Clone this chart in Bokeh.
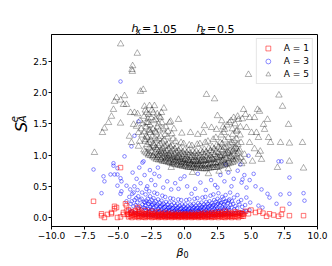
import math
from bokeh.plotting import figure
from bokeh.models import Range1d, FixedTicker, Label, Legend, LegendItem
from bokeh.layouts import column, row
from bokeh.embed import file_html
from bokeh.resources import INLINE

# ---------------- data ----------------
x_ticks = [-10, -7.5, -5, -2.5, 0, 2.5, 5, 7.5, 10]
x_tick_labels = ["\u221210.0", "\u22127.5", "\u22125.0", "\u22122.5", "0.0", "2.5", "5.0", "7.5", "10.0"]
y_ticks = [0, 0.5, 1, 1.5, 2, 2.5]
y_tick_labels = ["0.0", "0.5", "1.0", "1.5", "2.0", "2.5"]

series_labels = ["A = 1", "A = 3", "A = 5"]

# A = 1  (red squares)
a1_beta = [
    -4.81, -6.84, -6.24, -6.02, -5.79, -5.49, -5.26, -5.11, -5.04, -4.81,
    -4.36, -4.60, -4.30, -5.26, -5.49, -6.24, -4.59, -4.36, -3.99, -3.53,
    -3.38, -4.44, 4.36, 4.81, 5.34, 5.64, 6.39, 7.29, 7.37, 7.89,
    8.95, 7.07, 6.17, 5.00, 5.90, 6.70, 4.60,
    -4.20, -4.20, -4.20, -3.95, -3.95, -3.95, -3.70, -3.70, -3.70,
    -3.45, -3.45, -3.45, -3.45, -3.20, -3.20, -3.20,
    -2.95, -2.95, -2.95, -2.95, -2.70, -2.70, -2.70,
    -2.45, -2.45, -2.45, -2.45, -2.20, -2.20, -2.20,
    -1.95, -1.95, -1.95, -1.95, -1.70, -1.70, -1.70,
    -1.45, -1.45, -1.45, -1.45, -1.20, -1.20, -1.20,
    -0.95, -0.95, -0.95, -0.95, -0.70, -0.70, -0.70,
    -0.45, -0.45, -0.45, -0.45, -0.20, -0.20, -0.20,
    0.05, 0.05, 0.05, 0.05, 0.30, 0.30, 0.30,
    0.55, 0.55, 0.55, 0.55, 0.80, 0.80, 0.80,
    1.05, 1.05, 1.05, 1.05, 1.30, 1.30, 1.30,
    1.55, 1.55, 1.55, 1.55, 1.80, 1.80, 1.80,
    2.05, 2.05, 2.05, 2.05, 2.30, 2.30, 2.30,
    2.55, 2.55, 2.55, 2.55, 2.80, 2.80, 2.80,
    3.05, 3.05, 3.05, 3.05, 3.30, 3.30, 3.30,
    3.55, 3.55, 3.55, 3.80, 3.80, 3.80,
    4.05, 4.05, 4.05, 4.30, 4.30,
    -4.07, -4.07, -3.82, -3.82, -3.57, -3.57, -3.32, -3.32, -3.07, -3.07,
    -2.82, -2.82, -2.57, -2.57, -2.32, -2.32, -2.07, -2.07, -1.82, -1.82,
    -1.57, -1.57, -1.32, -1.32, -1.07, -1.07, -0.82, -0.82, -0.57, -0.57,
    -0.32, -0.32, -0.07, -0.07, 0.18, 0.18, 0.43, 0.43, 0.68, 0.68,
    0.93, 0.93, 1.18, 1.18, 1.43, 1.43, 1.68, 1.68, 1.93, 1.93,
    2.18, 2.18, 2.43, 2.43, 2.68, 2.68, 2.93, 2.93, 3.18, 3.18,
    3.43, 3.43, 3.68, 3.68, 3.93, 3.93, 4.18, 4.18, 4.43, 4.43,
]
a1_s = [
    0.80, 0.26, 0.06, 0.00, 0.05, 0.08, 0.14, 0.16, 0.00, 0.01,
    0.19, 0.08, 0.05, 0.18, 0.06, 0.03, 0.05, 0.10, 0.08, 0.16,
    0.10, 0.22, 0.06, 0.06, 0.08, 0.10, 0.06, 0.05, 0.13, 0.03,
    0.03, 0.02, 0.02, 0.12, 0.07, 0.04, 0.10,
    0.01, 0.05, 0.12, 0.00, 0.04, 0.09, 0.01, 0.05, 0.11,
    0.00, 0.03, 0.07, 0.13, 0.01, 0.04, 0.08,
    0.00, 0.03, 0.06, 0.11, 0.01, 0.04, 0.08,
    0.00, 0.03, 0.06, 0.10, 0.01, 0.03, 0.07,
    0.00, 0.02, 0.05, 0.09, 0.01, 0.03, 0.06,
    0.00, 0.02, 0.05, 0.08, 0.01, 0.03, 0.06,
    0.00, 0.02, 0.04, 0.07, 0.01, 0.03, 0.05,
    0.00, 0.02, 0.04, 0.07, 0.01, 0.03, 0.05,
    0.00, 0.02, 0.04, 0.06, 0.01, 0.03, 0.05,
    0.00, 0.02, 0.04, 0.07, 0.01, 0.03, 0.05,
    0.00, 0.02, 0.04, 0.07, 0.01, 0.03, 0.06,
    0.00, 0.02, 0.05, 0.08, 0.01, 0.03, 0.06,
    0.00, 0.02, 0.05, 0.08, 0.01, 0.04, 0.07,
    0.00, 0.03, 0.06, 0.09, 0.01, 0.04, 0.07,
    0.00, 0.03, 0.06, 0.10, 0.01, 0.04, 0.08,
    0.00, 0.03, 0.07, 0.01, 0.05, 0.09,
    0.00, 0.04, 0.08, 0.02, 0.06,
    0.02, 0.07, 0.03, 0.06, 0.02, 0.05, 0.02, 0.06, 0.01, 0.05,
    0.02, 0.06, 0.02, 0.05, 0.01, 0.05, 0.02, 0.04, 0.01, 0.04,
    0.02, 0.04, 0.01, 0.04, 0.02, 0.04, 0.01, 0.03, 0.02, 0.04,
    0.01, 0.03, 0.02, 0.04, 0.01, 0.03, 0.02, 0.04, 0.01, 0.03,
    0.02, 0.04, 0.01, 0.04, 0.02, 0.04, 0.01, 0.04, 0.02, 0.05,
    0.01, 0.05, 0.02, 0.05, 0.02, 0.05, 0.01, 0.05, 0.02, 0.06,
    0.02, 0.05, 0.02, 0.06, 0.02, 0.06, 0.03, 0.07, 0.02, 0.05,
]

# A = 3  (blue circles)
a3_beta = [
    -4.81, -3.46, -3.76, -3.99, -4.51, -5.34, -3.08, -6.84, -6.09, -5.56,
    -5.26, -5.04, -5.34, -5.04, -4.81, -2.26, -6.24, -6.02, -4.74, -4.74,
    -4.36, -4.36, -5.04, -4.81, 4.81, 7.07, 7.29, 4.36, 7.89, -0.45,
    0.53, 2.48, 3.53, 4.29, 4.66, 5.34, 5.79, 6.24, 6.39, 7.22,
    7.89, 8.95, 9.02, 6.92, 7.89, 5.56, 5.86, -3.16,
    -3.90, -3.60, -3.30, -3.00, -2.80, -2.50, -2.20, -1.90, -1.60, -1.30,
    -1.00, -0.70, -0.30, 0.20, 0.80, 1.20, 1.60, 2.00, 2.30, 2.70,
    3.00, 3.30, 3.70, 4.00, 4.50, 4.90, 5.20, -3.40, -2.60, 1.00,
    3.10, 4.20, -2.00, 0.00,
    -4.12, -4.05, -4.15, -4.08,
    -3.78, -3.84, -3.75, -3.82, -3.77,
    -3.52, -3.46, -3.55, -3.48, -3.53,
    -3.18, -3.24, -3.16, -3.22, -3.19,
    -2.92, -2.86, -2.95, -2.88, -2.93, -2.87,
    -2.58, -2.64, -2.56, -2.62, -2.59, -2.65,
    -2.32, -2.26, -2.35, -2.28, -2.33, -2.27,
    -1.98, -2.04, -1.96, -2.02, -1.99, -2.05,
    -1.72, -1.66, -1.75, -1.68, -1.73, -1.67,
    -1.38, -1.44, -1.36, -1.42, -1.39, -1.45,
    -1.12, -1.06, -1.15, -1.08, -1.13, -1.07,
    -0.78, -0.84, -0.76, -0.82, -0.79, -0.85,
    -0.52, -0.46, -0.55, -0.48, -0.53, -0.47,
    -0.18, -0.24, -0.16, -0.22, -0.19, -0.25,
    0.08, 0.14, 0.05, 0.12, 0.07, 0.13,
    0.42, 0.36, 0.45, 0.38, 0.43, 0.37,
    0.68, 0.74, 0.66, 0.72, 0.69, 0.75,
    1.02, 0.96, 1.05, 0.98, 1.03, 0.97,
    1.28, 1.34, 1.26, 1.32, 1.29, 1.35,
    1.62, 1.56, 1.65, 1.58, 1.63, 1.57,
    1.88, 1.94, 1.86, 1.92, 1.89, 1.95,
    2.22, 2.16, 2.25, 2.18, 2.23, 2.17,
    2.48, 2.54, 2.46, 2.52, 2.49, 2.55,
    2.82, 2.76, 2.85, 2.78, 2.83,
    3.08, 3.14, 3.06, 3.12, 3.09,
    3.42, 3.36, 3.45, 3.38, 3.43,
    3.68, 3.74, 3.66, 3.72,
    4.02, 3.96, 4.05, 3.98,
    4.28, 4.34, 4.26,
    4.62, 4.56, 4.65,
    4.88, 4.94,
    -3.95, -3.97, -3.93, -3.65, -3.67, -3.63, -3.35, -3.37, -3.33,
    -3.05, -3.07, -3.03, -2.75, -2.77, -2.73, -2.76,
    -2.45, -2.47, -2.43, -2.46, -2.15, -2.17, -2.13, -2.16,
    -1.85, -1.87, -1.83, -1.86, -1.55, -1.57, -1.53, -1.56,
    -1.25, -1.27, -1.23, -1.26, -0.95, -0.97, -0.93, -0.96,
    -0.65, -0.67, -0.63, -0.66, -0.35, -0.37, -0.33, -0.36,
    -0.05, -0.07, -0.03, -0.06, 0.25, 0.23, 0.27, 0.24,
    0.55, 0.53, 0.57, 0.54, 0.85, 0.83, 0.87, 0.84,
    1.15, 1.13, 1.17, 1.14, 1.45, 1.43, 1.47, 1.44,
    1.75, 1.73, 1.77, 1.74, 2.05, 2.03, 2.07, 2.04,
    2.35, 2.33, 2.37, 2.34, 2.65, 2.63, 2.67, 2.64,
    2.95, 2.93, 2.97, 2.94, 3.25, 3.23, 3.27,
    3.55, 3.53, 3.57, 3.85, 3.83, 4.15, 4.13, 4.45,
    -2.98, -2.98, -2.98, -2.68, -2.68, -2.68, -2.38, -2.38, -2.38,
    -2.08, -2.08, -2.08, -1.78, -1.78, -1.78, -1.48, -1.48, -1.48,
    -1.18, -1.18, -1.18, -0.88, -0.88, -0.88, -0.58, -0.58, -0.58,
    -0.28, -0.28, -0.28, 0.02, 0.02, 0.02, 0.32, 0.32, 0.32,
    0.62, 0.62, 0.62, 0.92, 0.92, 0.92, 1.22, 1.22, 1.22,
    1.52, 1.52, 1.52, 1.82, 1.82, 1.82, 2.12, 2.12, 2.12,
    2.42, 2.42, 2.42, 2.72, 2.72, 2.72, 3.02, 3.02, 3.02,
    3.32, 3.32, 3.32,
]
a3_s = [
    2.18, 1.54, 1.31, 1.14, 0.98, 0.87, 0.90, 0.77, 0.66, 0.69,
    0.69, 0.69, 0.83, 0.79, 0.63, 0.70, 0.39, 0.58, 0.58, 0.42,
    0.51, 0.26, 0.51, 0.38, 0.99, 0.90, 0.90, 0.61, 0.64, 0.46,
    0.38, 0.48, 0.50, 0.56, 0.48, 0.50, 0.45, 0.38, 0.32, 0.37,
    0.38, 0.39, 0.27, 0.22, 0.22, 0.19, 0.16, 0.88,
    0.72, 0.62, 0.55, 0.68, 0.50, 0.60, 0.52, 0.66, 0.48, 0.58,
    0.45, 0.55, 0.62, 0.50, 0.46, 0.56, 0.44, 0.60, 0.52, 0.68,
    0.58, 0.72, 0.62, 0.75, 0.68, 0.60, 0.70, 0.80, 0.76, 0.70,
    0.85, 0.85, 0.80, 0.66,
    0.12, 0.22, 0.33, 0.45,
    0.08, 0.18, 0.28, 0.40, 0.50,
    0.06, 0.15, 0.24, 0.34, 0.44,
    0.05, 0.13, 0.21, 0.30, 0.40,
    0.04, 0.11, 0.19, 0.27, 0.37, 0.46,
    0.04, 0.10, 0.17, 0.25, 0.34, 0.42,
    0.03, 0.09, 0.16, 0.23, 0.31, 0.40,
    0.03, 0.08, 0.14, 0.21, 0.29, 0.38,
    0.03, 0.08, 0.13, 0.20, 0.27, 0.35,
    0.02, 0.07, 0.12, 0.18, 0.25, 0.33,
    0.02, 0.07, 0.12, 0.17, 0.24, 0.31,
    0.02, 0.06, 0.11, 0.16, 0.23, 0.30,
    0.02, 0.06, 0.11, 0.16, 0.22, 0.29,
    0.02, 0.06, 0.10, 0.15, 0.21, 0.28,
    0.02, 0.06, 0.10, 0.15, 0.21, 0.28,
    0.02, 0.06, 0.10, 0.15, 0.21, 0.29,
    0.02, 0.06, 0.11, 0.16, 0.22, 0.30,
    0.02, 0.06, 0.11, 0.16, 0.23, 0.31,
    0.03, 0.07, 0.12, 0.17, 0.24, 0.32,
    0.03, 0.07, 0.12, 0.18, 0.25, 0.33,
    0.03, 0.08, 0.13, 0.19, 0.26, 0.35,
    0.03, 0.08, 0.14, 0.20, 0.28, 0.37,
    0.04, 0.09, 0.15, 0.22, 0.30, 0.39,
    0.04, 0.10, 0.16, 0.24, 0.33,
    0.05, 0.11, 0.18, 0.26, 0.36,
    0.05, 0.12, 0.20, 0.29, 0.40,
    0.06, 0.13, 0.22, 0.32,
    0.07, 0.15, 0.25, 0.36,
    0.08, 0.17, 0.28,
    0.10, 0.20, 0.32,
    0.12, 0.24,
    0.10, 0.26, 0.38, 0.07, 0.20, 0.31, 0.05, 0.18, 0.28,
    0.04, 0.16, 0.25, 0.04, 0.14, 0.22, 0.30,
    0.03, 0.13, 0.20, 0.28, 0.03, 0.11, 0.18, 0.26,
    0.02, 0.10, 0.17, 0.24, 0.02, 0.10, 0.16, 0.22,
    0.02, 0.09, 0.15, 0.21, 0.02, 0.09, 0.14, 0.20,
    0.02, 0.08, 0.13, 0.19, 0.02, 0.08, 0.13, 0.19,
    0.02, 0.08, 0.12, 0.18, 0.02, 0.08, 0.12, 0.18,
    0.02, 0.08, 0.13, 0.19, 0.02, 0.08, 0.13, 0.19,
    0.02, 0.09, 0.14, 0.20, 0.03, 0.09, 0.15, 0.21,
    0.03, 0.10, 0.16, 0.22, 0.03, 0.10, 0.17, 0.23,
    0.04, 0.11, 0.18, 0.25, 0.04, 0.12, 0.20, 0.27,
    0.05, 0.13, 0.21, 0.30, 0.05, 0.14, 0.23,
    0.06, 0.16, 0.26, 0.07, 0.18, 0.08, 0.21, 0.10,
    0.07, 0.15, 0.24, 0.06, 0.14, 0.22, 0.05, 0.12, 0.21,
    0.05, 0.12, 0.19, 0.04, 0.11, 0.18, 0.04, 0.10, 0.17,
    0.04, 0.10, 0.16, 0.04, 0.09, 0.15, 0.04, 0.09, 0.15,
    0.04, 0.09, 0.14, 0.04, 0.09, 0.14, 0.04, 0.09, 0.14,
    0.04, 0.09, 0.15, 0.04, 0.10, 0.15, 0.04, 0.10, 0.16,
    0.05, 0.10, 0.17, 0.05, 0.11, 0.18, 0.05, 0.12, 0.19,
    0.06, 0.13, 0.21, 0.06, 0.14, 0.23, 0.07, 0.15, 0.25,
    0.07, 0.16, 0.27,
]

# A = 5  (black triangles)
a5_beta = [
    -4.80, -3.55, -3.90, -3.95, -3.92, 4.81, 7.10, 7.37, 1.65, 2.26,
    -3.10, -3.31, -5.11, -4.51, -4.81, -4.59, -4.36, -5.26, -5.34, -5.49,
    -5.71, -6.02, -6.17, -6.77, -4.81, -4.06, -3.76, -3.83, -3.61, -4.14,
    -3.46, -3.99, -3.38, -3.46, -3.53, -3.01, -2.63, -2.26, -2.86, -1.73,
    -1.80, -1.13, -0.45, -1.05, 2.48, 1.50, 2.03, 2.41, 3.01, 3.38,
    0.45, 1.43, 4.44, 4.59, 4.89, 5.26, 5.49, 5.64, 6.24, 7.82,
    5.94, 6.02, 6.32, 6.47, 7.22, 7.89, 8.87, 4.06, 4.66, 5.04,
    5.41, 5.56, 4.89, 5.26, 5.56, 5.79, 4.51, 4.44, 5.11, 7.89,
    6.99, 8.95, 4.30, 5.70, -2.45, -2.05, -1.55, -2.75, -2.30, -1.95,
    -2.60, -1.40, -0.80, -3.15, -3.20, -0.20, 1.00, 2.80, 3.70, 3.95,
    -3.05, -2.95, -3.02, -2.90,
    -2.72, -2.65, -2.78, -2.68, -2.74,
    -2.38, -2.45, -2.35, -2.42, -2.37,
    -2.12, -2.05, -2.15, -2.08, -2.14, -2.03,
    -1.78, -1.85, -1.76, -1.83, -1.79, -1.86,
    -1.52, -1.45, -1.55, -1.48, -1.53, -1.46,
    -1.18, -1.25, -1.16, -1.22, -1.19, -1.26,
    -0.92, -0.85, -0.95, -0.88, -0.93, -0.86,
    -0.58, -0.65, -0.56, -0.62, -0.59, -0.66,
    -0.32, -0.25, -0.35, -0.28, -0.33, -0.26,
    0.02, -0.05, 0.04, -0.02, 0.01, -0.06,
    0.28, 0.35, 0.26, 0.32, 0.29, 0.36,
    0.62, 0.55, 0.65, 0.58, 0.63, 0.56,
    0.88, 0.95, 0.86, 0.92, 0.89, 0.96,
    1.22, 1.15, 1.25, 1.18, 1.23, 1.16,
    1.48, 1.55, 1.46, 1.52, 1.49, 1.56,
    1.82, 1.75, 1.85, 1.78, 1.83, 1.76,
    2.08, 2.15, 2.06, 2.12, 2.09, 2.16,
    2.42, 2.35, 2.45, 2.38, 2.43, 2.36,
    2.68, 2.75, 2.66, 2.72, 2.69, 2.76,
    3.02, 2.95, 3.05, 2.98, 3.03, 2.96,
    3.28, 3.35, 3.26, 3.32, 3.29,
    3.62, 3.55, 3.65, 3.58, 3.63,
    3.88, 3.95, 3.86, 3.92, 3.89,
    4.22, 4.15, 4.25, 4.18,
    -2.85, -2.82, -2.88,
    -2.55, -2.58, -2.52, -2.57,
    -2.25, -2.22, -2.28, -2.24,
    -1.95, -1.98, -1.93, -1.97, -1.92,
    -1.65, -1.62, -1.68, -1.64, -1.67,
    -1.35, -1.38, -1.32, -1.37, -1.33,
    -1.05, -1.02, -1.08, -1.04, -1.07,
    -0.75, -0.78, -0.72, -0.77, -0.73,
    -0.45, -0.42, -0.48, -0.44, -0.47,
    -0.15, -0.18, -0.12, -0.17, -0.13,
    0.15, 0.12, 0.18, 0.14, 0.17,
    0.45, 0.48, 0.42, 0.47, 0.43,
    0.75, 0.72, 0.78, 0.74, 0.77,
    1.05, 1.08, 1.02, 1.07, 1.03,
    1.35, 1.32, 1.38, 1.34, 1.37,
    1.65, 1.68, 1.62, 1.67, 1.63,
    1.95, 1.92, 1.98, 1.94, 1.97,
    2.25, 2.28, 2.22, 2.27, 2.23,
    2.55, 2.52, 2.58, 2.54, 2.57,
    2.85, 2.88, 2.82, 2.87, 2.83,
    3.15, 3.12, 3.18, 3.14,
    3.45, 3.48, 3.42, 3.47,
    3.75, 3.72, 3.78, 3.74,
    4.05, 4.08, 4.02,
    0.60, 1.80, 2.60, -1.00, 3.30,
    -2.97, -2.97, -2.67, -2.67, -2.37, -2.37, -2.07, -2.07,
    -1.77, -1.77, -1.47, -1.47, -1.17, -1.17, -0.87, -0.87,
    -0.57, -0.57, -0.27, -0.27, 0.03, 0.03, 0.33, 0.33,
    0.63, 0.63, 0.93, 0.93, 1.23, 1.23, 1.53, 1.53,
    1.83, 1.83, 2.13, 2.13, 2.43, 2.43, 2.73, 2.73,
    3.03, 3.03, 3.33, 3.33, 3.63, 3.63, 3.93, 3.93,
    -3.05, -2.85, -2.70, -2.50, -2.35, -2.15, -1.90, -1.70,
    -2.95, -2.60, -2.20, -1.60, -1.25, -0.95, -3.25, -3.35,
    3.20, 3.50, 3.80, 4.20, 4.00, 3.60, 2.90, 4.35,
]
a5_s = [
    2.78, 2.63, 2.43, 2.37, 2.34, 2.29, 1.96, 1.78, 1.97, 1.90,
    2.05, 2.02, 1.92, 1.95, 1.88, 1.81, 1.81, 1.86, 1.73, 1.62,
    1.52, 1.43, 1.36, 1.04, 1.51, 1.68, 1.68, 1.49, 1.46, 1.30,
    1.36, 1.20, 1.22, 1.14, 1.66, 1.78, 1.79, 1.79, 1.68, 1.68,
    1.60, 1.52, 1.57, 1.54, 1.63, 1.47, 1.44, 1.41, 1.41, 1.52,
    1.36, 1.36, 1.73, 1.65, 1.60, 1.60, 1.73, 1.70, 1.57, 1.49,
    1.49, 1.41, 1.28, 1.20, 1.20, 1.19, 1.20, 1.57, 1.44, 1.36,
    1.36, 1.28, 1.20, 1.10, 1.01, 0.93, 1.01, 0.90, 0.90, 0.90,
    0.80, 0.79, 0.86, 1.06, 1.72, 1.66, 1.75, 1.58, 1.55, 1.50,
    1.48, 1.45, 1.42, 1.50, 1.32, 1.35, 1.33, 1.55, 1.60, 1.40,
    1.08, 1.22, 1.37, 1.45,
    1.00, 1.12, 1.28, 1.40, 1.52,
    0.97, 1.06, 1.18, 1.30, 1.42,
    0.93, 1.02, 1.12, 1.24, 1.36, 1.45,
    0.92, 1.00, 1.08, 1.18, 1.30, 1.40,
    0.90, 0.97, 1.05, 1.14, 1.24, 1.33,
    0.88, 0.95, 1.02, 1.10, 1.19, 1.29,
    0.86, 0.93, 1.00, 1.08, 1.16, 1.26,
    0.84, 0.91, 0.98, 1.05, 1.13, 1.22,
    0.83, 0.89, 0.96, 1.03, 1.10, 1.20,
    0.82, 0.88, 0.94, 1.01, 1.08, 1.18,
    0.80, 0.87, 0.93, 1.00, 1.07, 1.16,
    0.80, 0.86, 0.92, 0.99, 1.06, 1.15,
    0.79, 0.85, 0.92, 0.98, 1.06, 1.17,
    0.79, 0.86, 0.92, 0.99, 1.07, 1.18,
    0.78, 0.85, 0.93, 1.00, 1.09, 1.20,
    0.79, 0.86, 0.94, 1.02, 1.11, 1.22,
    0.80, 0.87, 0.95, 1.04, 1.13, 1.25,
    0.80, 0.88, 0.97, 1.06, 1.16, 1.28,
    0.82, 0.90, 0.99, 1.09, 1.20, 1.32,
    0.84, 0.93, 1.02, 1.12, 1.24, 1.36,
    0.86, 0.95, 1.05, 1.16, 1.28,
    0.88, 0.98, 1.09, 1.20, 1.33,
    0.92, 1.02, 1.13, 1.26, 1.38,
    0.96, 1.08, 1.20, 1.32,
    1.03, 1.17, 1.30,
    0.99, 1.10, 1.24, 1.36,
    0.95, 1.04, 1.15, 1.27,
    0.92, 0.99, 1.06, 1.15, 1.26,
    0.90, 0.96, 1.03, 1.11, 1.21,
    0.89, 0.94, 1.00, 1.07, 1.16,
    0.87, 0.92, 0.98, 1.05, 1.13,
    0.85, 0.90, 0.96, 1.02, 1.10,
    0.84, 0.89, 0.95, 1.00, 1.07,
    0.82, 0.87, 0.93, 0.98, 1.05,
    0.81, 0.86, 0.91, 0.97, 1.04,
    0.80, 0.85, 0.90, 0.96, 1.03,
    0.79, 0.84, 0.90, 0.96, 1.03,
    0.79, 0.84, 0.89, 0.95, 1.02,
    0.78, 0.83, 0.90, 0.96, 1.04,
    0.78, 0.84, 0.91, 0.97, 1.05,
    0.79, 0.85, 0.92, 0.99, 1.07,
    0.80, 0.86, 0.93, 1.01, 1.10,
    0.81, 0.88, 0.96, 1.04, 1.13,
    0.83, 0.91, 0.99, 1.08, 1.18,
    0.85, 0.94, 1.03, 1.13,
    0.87, 0.97, 1.07, 1.19,
    0.90, 1.00, 1.11, 1.23,
    0.94, 1.05, 1.17,
    0.72, 0.70, 0.74, 0.80, 0.78,
    1.05, 1.25, 1.02, 1.20, 0.99, 1.14, 0.96, 1.09,
    0.94, 1.05, 0.92, 1.02, 0.90, 0.99, 0.88, 0.97,
    0.87, 0.95, 0.85, 0.93, 0.84, 0.92, 0.83, 0.91,
    0.82, 0.90, 0.82, 0.90, 0.82, 0.90, 0.82, 0.91,
    0.82, 0.92, 0.83, 0.93, 0.84, 0.95, 0.86, 0.97,
    0.88, 1.00, 0.90, 1.03, 0.93, 1.06, 0.97, 1.10,
    1.62, 1.52, 1.65, 1.60, 1.68, 1.57, 1.62, 1.52,
    1.72, 1.40, 1.38, 1.42, 1.38, 1.34, 1.42, 1.55,
    1.48, 1.55, 1.50, 1.45, 1.62, 1.42, 1.45, 1.58,
]

FONT = "DejaVu Sans"
W, H = 332, 266               # whole page
TOP, LEFTW = 34, 30           # title strip height, y-label strip width
FRAME_W, FRAME_H = 266, 192


def text_panel(x0, x1, y0, y1):
    """A blank figure whose data coordinates are page pixels."""
    f = figure(width=x1 - x0, height=y1 - y0,
               x_range=Range1d(x0, x1), y_range=Range1d(y1, y0),
               x_axis_location=None, y_axis_location=None,
               min_border=0, toolbar_location=None, output_backend="svg",
               outline_line_color=None, background_fill_color="white",
               border_fill_color="white")
    f.grid.visible = False
    return f


def txt(f, t, px, py, size, style="normal", angle=0.0, align="left"):
    f.add_layout(Label(x=px, y=py, text=t, text_font=FONT,
                       text_font_size=size, text_font_style=style,
                       text_color="black", text_align=align,
                       text_baseline="alphabetic", angle=angle))


# ---------------- main chart ----------------
main_h = FRAME_H + 17
p = figure(
    frame_width=FRAME_W, frame_height=FRAME_H,
    x_range=Range1d(-10, 10), y_range=Range1d(-0.144, 2.933),
    output_backend="svg", toolbar_location=None,
    min_border_left=49 - LEFTW, min_border_right=W - 49 - FRAME_W,
    min_border_top=0, min_border_bottom=17,
    background_fill_color="white", border_fill_color="white",
)
p.xgrid.visible = False
p.ygrid.visible = False
p.outline_line_color = "black"
p.outline_line_width = 1
p.outline_line_alpha = 1

r3 = p.scatter(a3_beta, a3_s, marker="circle", size=3.6, fill_color=None,
               line_color="blue", line_alpha=0.5, line_width=0.9)
r1 = p.scatter(a1_beta, a1_s, marker="square", size=4.5, fill_color=None,
               line_color="red", line_alpha=0.6, line_width=0.9)
r5 = p.scatter(a5_beta, a5_s, marker="triangle", size=6.5, fill_color=None,
               line_color="black", line_alpha=0.35, line_width=0.9)

p.xaxis.ticker = FixedTicker(ticks=x_ticks)
p.xaxis.major_label_overrides = dict(zip(x_ticks, x_tick_labels))
p.yaxis.ticker = FixedTicker(ticks=y_ticks)
p.yaxis.major_label_overrides = dict(zip(y_ticks, y_tick_labels))
for ax in (p.xaxis, p.yaxis):
    ax.axis_label = None
    ax.axis_label_standoff = 0
    ax.minor_tick_line_color = None
    ax.major_tick_out = 3
    ax.major_tick_in = 0
    ax.major_tick_line_color = "black"
    ax.axis_line_color = "black"
    ax.major_label_text_font = FONT
    ax.major_label_text_font_size = "9px"
    ax.major_label_text_color = "black"
p.xaxis.major_label_standoff = 2
p.yaxis.major_label_standoff = 1

legend = Legend(items=[
    LegendItem(label=series_labels[0], renderers=[r1]),
    LegendItem(label=series_labels[1], renderers=[r3]),
    LegendItem(label=series_labels[2], renderers=[r5]),
], location="top_right")
legend.margin = 4
legend.padding = 3
legend.spacing = 1
legend.glyph_width = 16
legend.glyph_height = 12
legend.label_standoff = 8
legend.label_height = 12
legend.label_text_font = FONT
legend.label_text_font_size = "9px"
legend.label_text_color = "black"
legend.border_line_color = "#cccccc"
legend.border_line_width = 1
legend.background_fill_alpha = 0.8
p.add_layout(legend)

# ---------------- text strips ----------------
title_f = text_panel(0, W, 0, TOP)
txt(title_f, "h", 131, 28, "11px", "italic")
txt(title_f, "x", 135.5, 30.5, "8px", "italic")
txt(title_f, "=", 141.5, 28, "11px")
txt(title_f, "1.05", 152, 28, "11px")
txt(title_f, "h", 196, 28, "11px", "italic")
txt(title_f, "z", 200.5, 30.5, "8px", "italic")
txt(title_f, "=", 206.5, 28, "11px")
txt(title_f, "0.5", 216.5, 28, "11px")

# y label S_A^e, read bottom to top (kept clear of the strip's right edge)
ylab_f = text_panel(0, LEFTW, TOP, TOP + main_h)
txt(ylab_f, "S", 21, 140, "16px", "italic", math.pi / 2)
txt(ylab_f, "e", 13.5, 129.5, "10px", "italic", math.pi / 2)
txt(ylab_f, "A", 22, 129.5, "10px", "italic", math.pi / 2)

xlab_f = text_panel(0, W, TOP + main_h, H)
txt(xlab_f, "\u03b2", 176, 252, "11px", "italic")
txt(xlab_f, "0", 183, 254, "8px")

page = column(title_f, row(ylab_f, p), xlab_f)

open("out.html", "w").write(file_html(page, INLINE))
